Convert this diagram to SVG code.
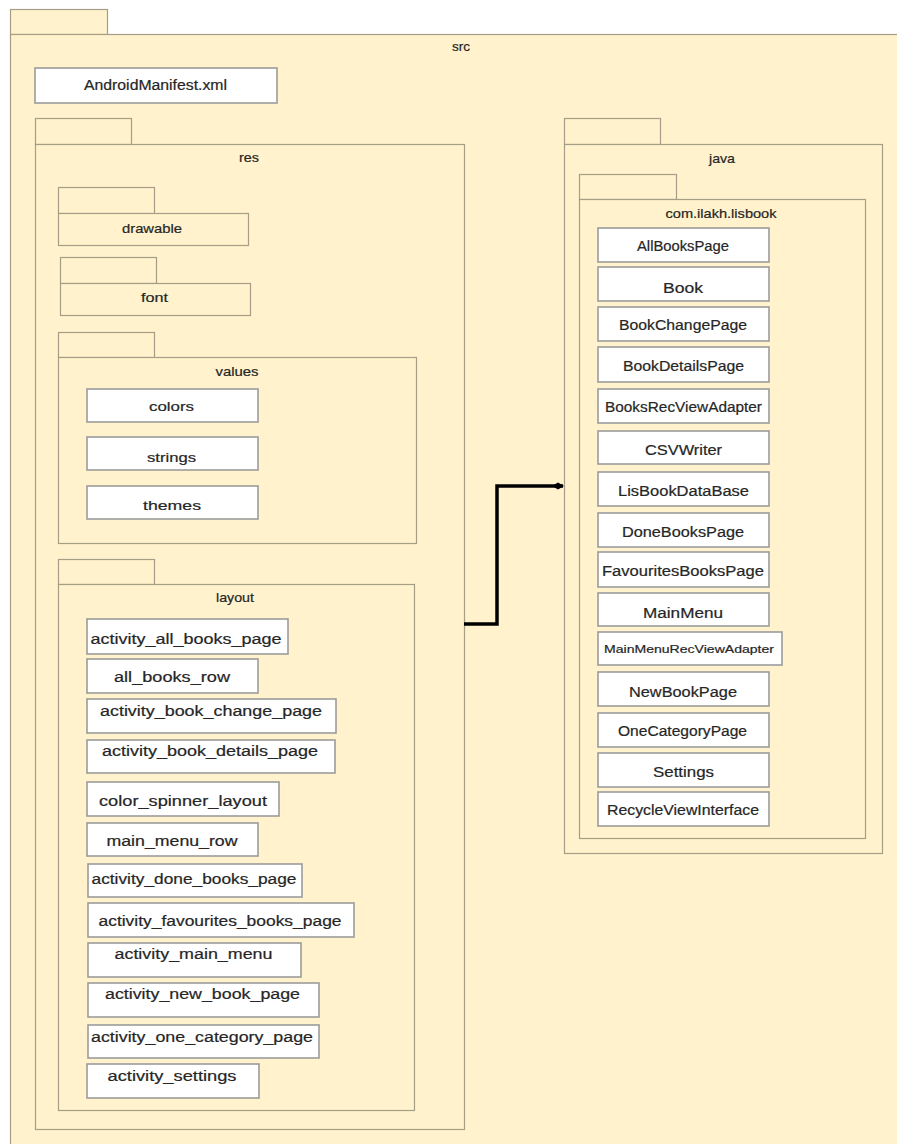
<svg xmlns="http://www.w3.org/2000/svg" width="897" height="1144" viewBox="0 0 897 1144">
  <defs>
    <style>
      .pkg { fill: #fff2cc; stroke: #a69e86; stroke-width: 1.2; }
      .box { fill: #ffffff; stroke: #9b9b9b; stroke-width: 1.6; }
      .t { font-family: "Liberation Sans", Arial, sans-serif; fill: #262626; stroke: #262626; stroke-width: 0.2; text-anchor: middle; }
      .pl { font-size: 13px; }
      .it { font-size: 14px; }
      .edge { fill: none; stroke: #000000; stroke-width: 3.5; }
    </style>
    <marker id="diamond" viewBox="0 0 12 10" refX="11" refY="5" markerWidth="12" markerHeight="10" markerUnits="userSpaceOnUse" orient="auto">
      <path d="M0,5 L6,1.5 L12,5 L6,8.5 Z" fill="#000000"/>
    </marker>
  </defs>

  <rect x="0" y="0" width="897" height="1144" fill="#ffffff"/>

  <!-- src package -->
  <g id="pkg-src">
    <rect class="pkg" x="10.5" y="9.5" width="97" height="25"/>
    <rect class="pkg" x="10.5" y="34.5" width="900" height="1120"/>
    <text class="t pl" x="461" y="51" textLength="18" lengthAdjust="spacingAndGlyphs">src</text>
  </g>

  <g id="node-manifest">
    <rect class="box" x="35" y="68" width="242" height="35"/>
    <text class="t it" x="155.5" y="90" textLength="143" lengthAdjust="spacingAndGlyphs">AndroidManifest.xml</text>
  </g>

  <!-- res package -->
  <g id="pkg-res">
    <rect class="pkg" x="35.5" y="118.5" width="96" height="26"/>
    <rect class="pkg" x="35.5" y="144.5" width="429" height="985"/>
    <text class="t pl" x="249" y="162" textLength="20" lengthAdjust="spacingAndGlyphs">res</text>
  </g>

  <g id="pkg-drawable">
    <rect class="pkg" x="58.5" y="187.5" width="96" height="26"/>
    <rect class="pkg" x="58.5" y="213.5" width="190" height="32"/>
    <text class="t pl" x="152" y="233" textLength="60" lengthAdjust="spacingAndGlyphs">drawable</text>
  </g>

  <g id="pkg-font">
    <rect class="pkg" x="60.5" y="257.5" width="96" height="26"/>
    <rect class="pkg" x="60.5" y="283.5" width="190" height="32"/>
    <text class="t pl" x="154.5" y="302" textLength="27" lengthAdjust="spacingAndGlyphs">font</text>
  </g>

  <g id="pkg-values">
    <rect class="pkg" x="58.5" y="332.5" width="96" height="25"/>
    <rect class="pkg" x="58.5" y="357.5" width="358" height="186"/>
    <text class="t pl" x="237" y="376" textLength="43" lengthAdjust="spacingAndGlyphs">values</text>
  </g>
  <g id="node-colors">
    <rect class="box" x="87" y="389" width="171" height="33"/>
    <text class="t pl" x="171.5" y="411" textLength="45" lengthAdjust="spacingAndGlyphs">colors</text>
  </g>
  <g id="node-strings">
    <rect class="box" x="87" y="437" width="171" height="33"/>
    <text class="t pl" x="171.5" y="462" textLength="49" lengthAdjust="spacingAndGlyphs">strings</text>
  </g>
  <g id="node-themes">
    <rect class="box" x="87" y="486" width="171" height="33"/>
    <text class="t pl" x="172" y="510" textLength="58" lengthAdjust="spacingAndGlyphs">themes</text>
  </g>

  <!-- layout package -->
  <g id="pkg-layout">
    <rect class="pkg" x="58.5" y="559.5" width="96" height="25"/>
    <rect class="pkg" x="58.5" y="584.5" width="356" height="526"/>
    <text class="t pl" x="235" y="602" textLength="38" lengthAdjust="spacingAndGlyphs">layout</text>
  </g>
  <g id="node-activity-all-books-page">
    <rect class="box" x="87" y="619" width="201" height="35"/>
    <text class="t it" x="186" y="644" textLength="191" lengthAdjust="spacingAndGlyphs">activity_all_books_page</text>
  </g>
  <g id="node-all-books-row">
    <rect class="box" x="87" y="659" width="171" height="34"/>
    <text class="t it" x="172" y="682" textLength="116" lengthAdjust="spacingAndGlyphs">all_books_row</text>
  </g>
  <g id="node-activity-book-change-page">
    <rect class="box" x="87" y="699" width="249" height="34"/>
    <text class="t it" x="211" y="716" textLength="222" lengthAdjust="spacingAndGlyphs">activity_book_change_page</text>
  </g>
  <g id="node-activity-book-details-page">
    <rect class="box" x="87" y="740" width="248" height="33"/>
    <text class="t it" x="210" y="756" textLength="216" lengthAdjust="spacingAndGlyphs">activity_book_details_page</text>
  </g>
  <g id="node-color-spinner-layout">
    <rect class="box" x="87" y="782" width="192" height="34"/>
    <text class="t it" x="183" y="806" textLength="168" lengthAdjust="spacingAndGlyphs">color_spinner_layout</text>
  </g>
  <g id="node-main-menu-row">
    <rect class="box" x="87" y="823" width="171" height="33"/>
    <text class="t it" x="172" y="846" textLength="131" lengthAdjust="spacingAndGlyphs">main_menu_row</text>
  </g>
  <g id="node-activity-done-books-page">
    <rect class="box" x="88" y="864" width="214" height="33"/>
    <text class="t it" x="194" y="884" textLength="205" lengthAdjust="spacingAndGlyphs">activity_done_books_page</text>
  </g>
  <g id="node-activity-favourites-books-page">
    <rect class="box" x="88" y="903" width="266" height="34"/>
    <text class="t it" x="220" y="926" textLength="243" lengthAdjust="spacingAndGlyphs">activity_favourites_books_page</text>
  </g>
  <g id="node-activity-main-menu">
    <rect class="box" x="88" y="943" width="213" height="34"/>
    <text class="t it" x="193.5" y="959" textLength="158" lengthAdjust="spacingAndGlyphs">activity_main_menu</text>
  </g>
  <g id="node-activity-new-book-page">
    <rect class="box" x="88" y="983" width="231" height="34"/>
    <text class="t it" x="202.5" y="999" textLength="195" lengthAdjust="spacingAndGlyphs">activity_new_book_page</text>
  </g>
  <g id="node-activity-one-category-page">
    <rect class="box" x="88" y="1025" width="231" height="33"/>
    <text class="t it" x="202" y="1042" textLength="222" lengthAdjust="spacingAndGlyphs">activity_one_category_page</text>
  </g>
  <g id="node-activity-settings">
    <rect class="box" x="87" y="1064" width="172" height="34"/>
    <text class="t it" x="172" y="1081" textLength="129" lengthAdjust="spacingAndGlyphs">activity_settings</text>
  </g>

  <!-- java package -->
  <g id="pkg-java">
    <rect class="pkg" x="564.5" y="118.5" width="96" height="26"/>
    <rect class="pkg" x="564.5" y="144.5" width="318" height="709"/>
    <text class="t pl" x="722" y="163" textLength="26" lengthAdjust="spacingAndGlyphs">java</text>
  </g>
  <g id="pkg-lisbook">
    <rect class="pkg" x="579.5" y="174.5" width="97" height="25"/>
    <rect class="pkg" x="579.5" y="199.5" width="286" height="639"/>
    <text class="t pl" x="721" y="218" textLength="111" lengthAdjust="spacingAndGlyphs">com.ilakh.lisbook</text>
  </g>
  <g id="node-AllBooksPage">
    <rect class="box" x="598" y="228" width="171" height="34"/>
    <text class="t it" x="683" y="251" textLength="92" lengthAdjust="spacingAndGlyphs">AllBooksPage</text>
  </g>
  <g id="node-Book">
    <rect class="box" x="598" y="267" width="171" height="34"/>
    <text class="t it" x="683" y="293" textLength="40" lengthAdjust="spacingAndGlyphs">Book</text>
  </g>
  <g id="node-BookChangePage">
    <rect class="box" x="598" y="307" width="171" height="34"/>
    <text class="t it" x="683" y="330" textLength="128" lengthAdjust="spacingAndGlyphs">BookChangePage</text>
  </g>
  <g id="node-BookDetailsPage">
    <rect class="box" x="598" y="347" width="171" height="35"/>
    <text class="t it" x="683.5" y="371" textLength="121" lengthAdjust="spacingAndGlyphs">BookDetailsPage</text>
  </g>
  <g id="node-BooksRecViewAdapter">
    <rect class="box" x="598" y="389" width="171" height="34"/>
    <text class="t it" x="683.5" y="412" textLength="157" lengthAdjust="spacingAndGlyphs">BooksRecViewAdapter</text>
  </g>
  <g id="node-CSVWriter">
    <rect class="box" x="598" y="431" width="171" height="33"/>
    <text class="t it" x="683.5" y="455" textLength="77" lengthAdjust="spacingAndGlyphs">CSVWriter</text>
  </g>
  <g id="node-LisBookDataBase">
    <rect class="box" x="598" y="472" width="171" height="34"/>
    <text class="t it" x="683.5" y="496" textLength="131" lengthAdjust="spacingAndGlyphs">LisBookDataBase</text>
  </g>
  <g id="node-DoneBooksPage">
    <rect class="box" x="598" y="513" width="171" height="34"/>
    <text class="t it" x="683" y="537" textLength="122" lengthAdjust="spacingAndGlyphs">DoneBooksPage</text>
  </g>
  <g id="node-FavouritesBooksPage">
    <rect class="box" x="598" y="552" width="171" height="35"/>
    <text class="t it" x="683" y="576" textLength="162" lengthAdjust="spacingAndGlyphs">FavouritesBooksPage</text>
  </g>
  <g id="node-MainMenu">
    <rect class="box" x="598" y="593" width="171" height="33"/>
    <text class="t it" x="683" y="618" textLength="80" lengthAdjust="spacingAndGlyphs">MainMenu</text>
  </g>
  <g id="node-MainMenuRecViewAdapter">
    <rect class="box" x="598" y="632" width="184" height="33"/>
    <text class="t" style="font-size:11px" x="689" y="653" textLength="170" lengthAdjust="spacingAndGlyphs">MainMenuRecViewAdapter</text>
  </g>
  <g id="node-NewBookPage">
    <rect class="box" x="598" y="672" width="171" height="34"/>
    <text class="t it" x="683" y="697" textLength="108" lengthAdjust="spacingAndGlyphs">NewBookPage</text>
  </g>
  <g id="node-OneCategoryPage">
    <rect class="box" x="598" y="713" width="171" height="34"/>
    <text class="t it" x="682.5" y="736" textLength="129" lengthAdjust="spacingAndGlyphs">OneCategoryPage</text>
  </g>
  <g id="node-Settings">
    <rect class="box" x="598" y="753" width="171" height="34"/>
    <text class="t it" x="683.5" y="777" textLength="61" lengthAdjust="spacingAndGlyphs">Settings</text>
  </g>
  <g id="node-RecycleViewInterface">
    <rect class="box" x="598" y="792" width="171" height="34"/>
    <text class="t it" x="683" y="815" textLength="152" lengthAdjust="spacingAndGlyphs">RecycleViewInterface</text>
  </g>

  <!-- connectors -->
  <g id="connectors">
    <path class="edge" d="M464,624 H497 V486 H563" marker-end="url(#diamond)"/>
  </g>
</svg>
